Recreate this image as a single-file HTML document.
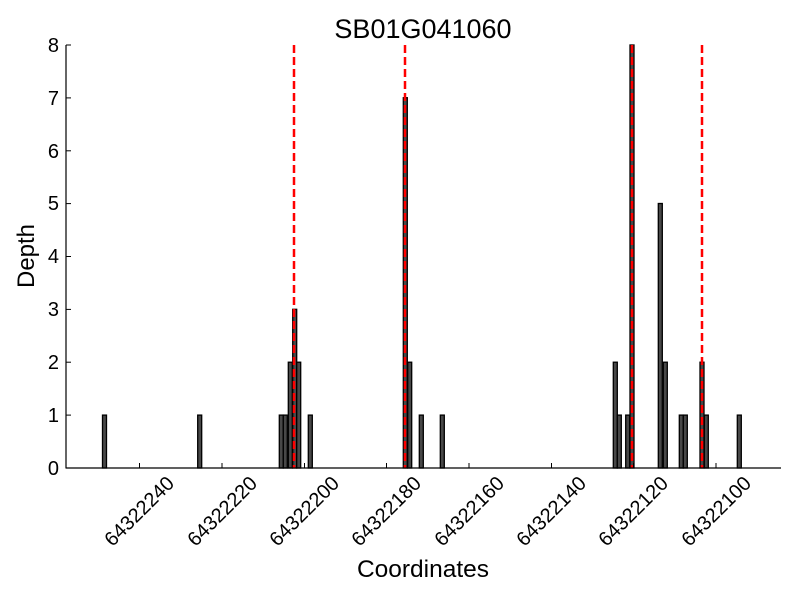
<!DOCTYPE html>
<html><head><meta charset="utf-8"><style>body{margin:0;background:#fff}svg{display:block}text{font-family:"Liberation Sans","DejaVu Sans",sans-serif;fill:#000}</style></head>
<body>
<svg width="800" height="600" viewBox="0 0 800 600" xmlns="http://www.w3.org/2000/svg">
<rect width="800" height="600" fill="#fff"/>
<text x="423" y="38" font-size="27" text-anchor="middle">SB01G041060</text>
<g fill="#484848" stroke="#000" stroke-width="1.3">
<rect x="102.5" y="415.1" width="4" height="52.9"/>
<rect x="197.7" y="415.1" width="4" height="52.9"/>
<rect x="279.3" y="415.1" width="4" height="52.9"/>
<rect x="283.3" y="415.1" width="4" height="52.9"/>
<rect x="288.3" y="362.2" width="4" height="105.8"/>
<rect x="292.7" y="309.3" width="4" height="158.7"/>
<rect x="296.7" y="362.2" width="4" height="105.8"/>
<rect x="308.3" y="415.1" width="4" height="52.9"/>
<rect x="403.3" y="97.7" width="4" height="370.3"/>
<rect x="407.7" y="362.2" width="4" height="105.8"/>
<rect x="419.3" y="415.1" width="4" height="52.9"/>
<rect x="440.3" y="415.1" width="4" height="52.9"/>
<rect x="613.3" y="362.2" width="4" height="105.8"/>
<rect x="617.3" y="415.1" width="4" height="52.9"/>
<rect x="625.7" y="415.1" width="4" height="52.9"/>
<rect x="630" y="45" width="4" height="423"/>
<rect x="658.3" y="203.5" width="4" height="264.5"/>
<rect x="663.3" y="362.2" width="4" height="105.8"/>
<rect x="679.3" y="415.1" width="4" height="52.9"/>
<rect x="683.3" y="415.1" width="4" height="52.9"/>
<rect x="700" y="362.2" width="4" height="105.8"/>
<rect x="704.3" y="415.1" width="4" height="52.9"/>
<rect x="737.3" y="415.1" width="4" height="52.9"/>
</g>
<g stroke="#f00" stroke-width="2.5" stroke-dasharray="8,4">
<line x1="294" y1="45" x2="294" y2="468"/>
<line x1="405" y1="45" x2="405" y2="468"/>
<line x1="632" y1="45" x2="632" y2="468"/>
<line x1="702" y1="45" x2="702" y2="468"/>
</g>
<g stroke="#000" stroke-width="1.2">
<line x1="66" y1="45" x2="66" y2="468.5"/>
<line x1="66" y1="468" x2="781" y2="468"/>
</g>
<g stroke="#000" stroke-width="1">
<line x1="66" y1="415.1" x2="71" y2="415.1"/><line x1="66" y1="362.2" x2="71" y2="362.2"/><line x1="66" y1="309.4" x2="71" y2="309.4"/><line x1="66" y1="256.5" x2="71" y2="256.5"/><line x1="66" y1="203.6" x2="71" y2="203.6"/><line x1="66" y1="150.8" x2="71" y2="150.8"/><line x1="66" y1="97.9" x2="71" y2="97.9"/><line x1="66" y1="45" x2="71" y2="45"/>
<line x1="139.5" y1="468" x2="139.5" y2="463"/><line x1="222" y1="468" x2="222" y2="463"/><line x1="304.5" y1="468" x2="304.5" y2="463"/><line x1="386.5" y1="468" x2="386.5" y2="463"/><line x1="469" y1="468" x2="469" y2="463"/><line x1="551.5" y1="468" x2="551.5" y2="463"/><line x1="633.5" y1="468" x2="633.5" y2="463"/><line x1="716" y1="468" x2="716" y2="463"/>
</g>
<g font-size="20" text-anchor="end">
<text x="59" y="475">0</text><text x="59" y="422">1</text><text x="59" y="369">2</text><text x="59" y="316">3</text><text x="59" y="263">4</text><text x="59" y="210">5</text><text x="59" y="158">6</text><text x="59" y="105">7</text><text x="59" y="52">8</text>
</g>
<g font-size="20" text-anchor="middle">
<text transform="translate(139,511) rotate(-45)" y="7">64322240</text>
<text transform="translate(222,511) rotate(-45)" y="7">64322220</text>
<text transform="translate(304,511) rotate(-45)" y="7">64322200</text>
<text transform="translate(386,511) rotate(-45)" y="7">64322180</text>
<text transform="translate(469,511) rotate(-45)" y="7">64322160</text>
<text transform="translate(551,511) rotate(-45)" y="7">64322140</text>
<text transform="translate(633,511) rotate(-45)" y="7">64322120</text>
<text transform="translate(716,511) rotate(-45)" y="7">64322100</text>
</g>
<text x="423" y="577" font-size="24.5" text-anchor="middle">Coordinates</text>
<text transform="translate(34,256) rotate(-90)" font-size="24" text-anchor="middle">Depth</text>
</svg>
</body></html>
